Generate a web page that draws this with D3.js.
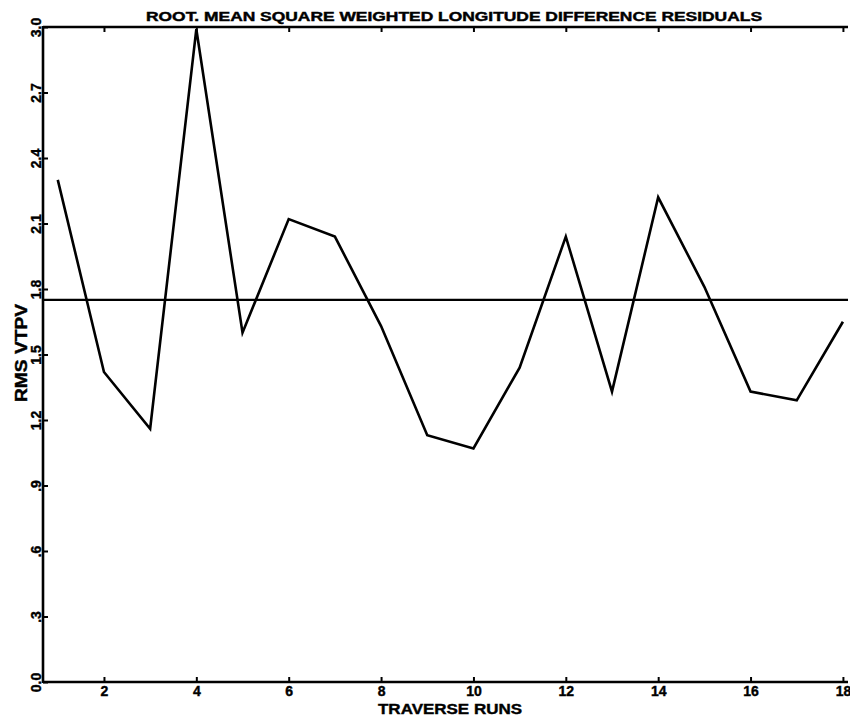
<!DOCTYPE html>
<html>
<head>
<meta charset="utf-8">
<script src="https://cdn.jsdelivr.net/npm/d3@7"></script>
<style>
  body { margin: 0; background: #fff; }
  text { font-family: "Liberation Sans", "DejaVu Sans", sans-serif; font-weight: bold; fill: #000; stroke: #000; stroke-width: 0.4px; }
</style>
</head>
<body>
<svg id="chart"></svg>
<script>
const SVG_WIDTH = 850;
const SVG_HEIGHT = 717;
const LEFT = 43;
const RIGHT = 848;
const TOP = 27;
const BOTTOM = 682;
const TICK = 5;

// data
const runs = [1, 2, 3, 4, 5, 6, 7, 8, 9, 10, 11, 12, 13, 14, 15, 16, 17, 18];
const rmsVtpv = [2.30, 1.42, 1.16, 2.99, 1.60, 2.12, 2.04, 1.63, 1.13, 1.07,
                 1.44, 2.04, 1.33, 2.22, 1.81, 1.33, 1.29, 1.65];
const overallRms = 1.75;
const xTicks = [2, 4, 6, 8, 10, 12, 14, 16, 18];
const yTicks = [0, 0.3, 0.6, 0.9, 1.2, 1.5, 1.8, 2.1, 2.4, 2.7, 3.0];
const yTickLabels = ["0.0", ".3", ".6", ".9", "1.2", "1.5", "1.8", "2.1", "2.4", "2.7", "3.0"];

const xScale = d3.scaleLinear().domain([0.68, 18.11]).range([LEFT, RIGHT]);
const yScale = d3.scaleLinear().domain([0, 3]).range([BOTTOM, TOP]);

const svg = d3.select("#chart").attr("width", SVG_WIDTH).attr("height", SVG_HEIGHT);

// bottom axis
const xAxisBottom = d3.axisBottom(xScale).tickValues(xTicks).tickSize(-TICK).tickPadding(4)
  .tickFormat(d3.format("d"));
svg.append("g")
  .attr("transform", "translate(0," + BOTTOM + ")")
  .call(xAxisBottom)
  .call(g => g.select(".domain").attr("d", "M" + LEFT + ",0H" + RIGHT))
  .call(g => g.selectAll("text").style("font-size", "14px"));

// top axis, ticks only
const xAxisTop = d3.axisTop(xScale).tickValues(xTicks).tickSize(-TICK).tickFormat("");
svg.append("g")
  .attr("transform", "translate(0," + TOP + ")")
  .call(xAxisTop)
  .call(g => g.select(".domain").attr("d", "M" + LEFT + ",0H" + RIGHT));

// left axis
const yAxis = d3.axisLeft(yScale).tickValues(yTicks).tickSize(-TICK)
  .tickFormat((d, i) => yTickLabels[i]);
svg.append("g")
  .attr("transform", "translate(" + LEFT + ",0)")
  .call(yAxis)
  .call(g => g.select(".domain").attr("d", "M0," + (TOP - 1) + "V" + (BOTTOM + 1)))
  .call(g => g.selectAll(".tick text")
    .attr("x", null).attr("dy", null)
    .attr("text-anchor", "middle")
    .attr("transform", "translate(-2,0) rotate(-90)")
    .style("font-size", "14px"));

svg.selectAll(".domain").attr("stroke", "#000").attr("stroke-width", 2.6);
svg.selectAll(".tick line").attr("stroke", "#000").attr("stroke-width", 2);

// overall rms reference line
svg.append("line")
  .attr("x1", LEFT).attr("x2", RIGHT)
  .attr("y1", yScale(overallRms)).attr("y2", yScale(overallRms))
  .attr("stroke", "#000").attr("stroke-width", 2.2);

// data line
const line = d3.line()
  .x((d, i) => xScale(runs[i]))
  .y(d => yScale(d));
svg.append("path")
  .datum(rmsVtpv)
  .attr("d", line)
  .attr("fill", "none")
  .attr("stroke", "#000")
  .attr("stroke-width", 2.6)
  .attr("stroke-linejoin", "miter");

// titles
svg.append("text")
  .attr("x", 146).attr("y", 21)
  .attr("textLength", 616).attr("lengthAdjust", "spacingAndGlyphs")
  .style("font-size", "12px")
  .text("ROOT. MEAN SQUARE WEIGHTED LONGITUDE DIFFERENCE RESIDUALS");

svg.append("text")
  .attr("x", 378).attr("y", 714)
  .attr("textLength", 144).attr("lengthAdjust", "spacingAndGlyphs")
  .style("font-size", "15px")
  .text("TRAVERSE RUNS");

svg.append("text")
  .attr("transform", "translate(27,353) rotate(-90)")
  .attr("text-anchor", "middle")
  .attr("textLength", 98).attr("lengthAdjust", "spacingAndGlyphs")
  .style("font-size", "16px")
  .text("RMS VTPV");
</script>
</body>
</html>
